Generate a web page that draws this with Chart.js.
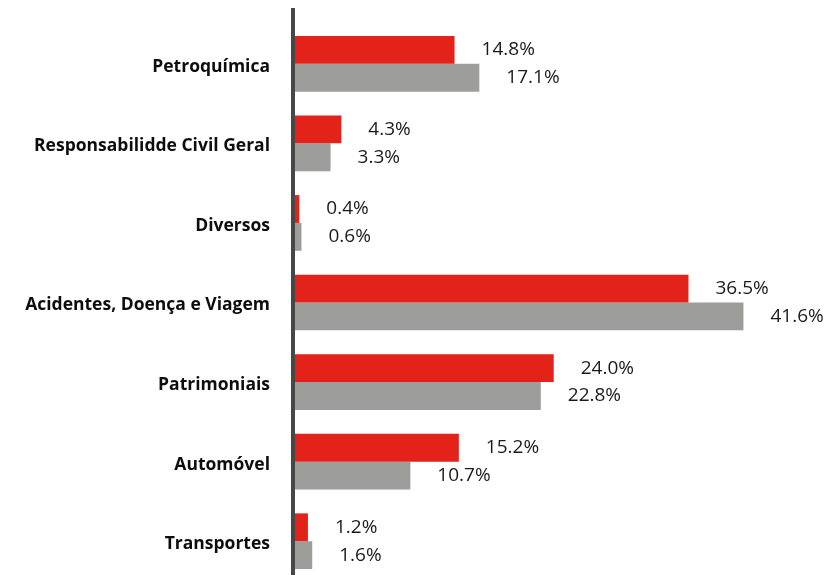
<!DOCTYPE html>
<html>
<head>
<meta charset="utf-8">
<script src="https://cdn.jsdelivr.net/npm/chart.js@4"></script>
<style>
  html, body { margin: 0; padding: 0; background: #fff; overflow: hidden; }
  canvas { display: block; }
</style>
</head>
<body>
<canvas id="chart" width="834" height="581"></canvas>
<script>
// categories and series (values in %)
const categories = [
  "Petroquímica",
  "Responsabilidde Civil Geral",
  "Diversos",
  "Acidentes, Doença e Viagem",
  "Patrimoniais",
  "Automóvel",
  "Transportes"
];
const seriesRed = [14.8, 4.3, 0.4, 36.5, 24.0, 15.2, 1.2];
const seriesGray = [17.1, 3.3, 0.6, 41.6, 22.8, 10.7, 1.6];

const RED = "#e3231a";
const GRAY = "#9d9d9c";
const AXIS = "#474747";

// vertical axis line, runs from near the top to the bottom of the page
const axisLine = {
  id: "axisLine",
  afterDraw(chart) {
    const { ctx, chartArea } = chart;
    ctx.save();
    ctx.fillStyle = AXIS;
    ctx.fillRect(chartArea.left - 4, 8, 4, chart.height);
    ctx.restore();
  }
};

// percentage labels to the right of every bar
const valueLabels = {
  id: "valueLabels",
  afterDatasetsDraw(chart) {
    const { ctx } = chart;
    ctx.save();
    ctx.font = "19px 'Open Sans'";
    ctx.fillStyle = "#1a1a1a";
    ctx.textAlign = "left";
    ctx.textBaseline = "middle";
    chart.data.datasets.forEach((ds, i) => {
      chart.getDatasetMeta(i).data.forEach((bar, j) => {
        ctx.fillText(ds.data[j].toFixed(1) + "%", bar.x + 27, bar.y);
      });
    });
    ctx.restore();
  }
};

new Chart(document.getElementById("chart"), {
  type: "bar",
  data: {
    labels: categories,
    datasets: [
      { label: "Série 1", data: seriesRed, backgroundColor: RED },
      { label: "Série 2", data: seriesGray, backgroundColor: GRAY }
    ]
  },
  options: {
    indexAxis: "y",
    responsive: false,
    animation: false,
    categoryPercentage: 0.7,
    barPercentage: 1,
    layout: { padding: { top: 24, right: 0, bottom: 0, left: 0 } },
    plugins: {
      legend: { display: false },
      tooltip: { enabled: false }
    },
    scales: {
      x: {
        display: false,
        min: 0,
        max: 50
      },
      y: {
        grid: { display: false, drawTicks: false },
        border: { display: false },
        ticks: {
          color: "#0d0d0d",
          padding: 25,
          labelOffset: 3,
          font: { family: "Open Sans", size: 17.5, weight: "bold" }
        },
        afterFit(scale) {
          scale.width = 295;
          scale.paddingTop = 0;
          scale.paddingBottom = 0;
        }
      }
    }
  },
  plugins: [axisLine, valueLabels]
});
</script>
</body>
</html>
